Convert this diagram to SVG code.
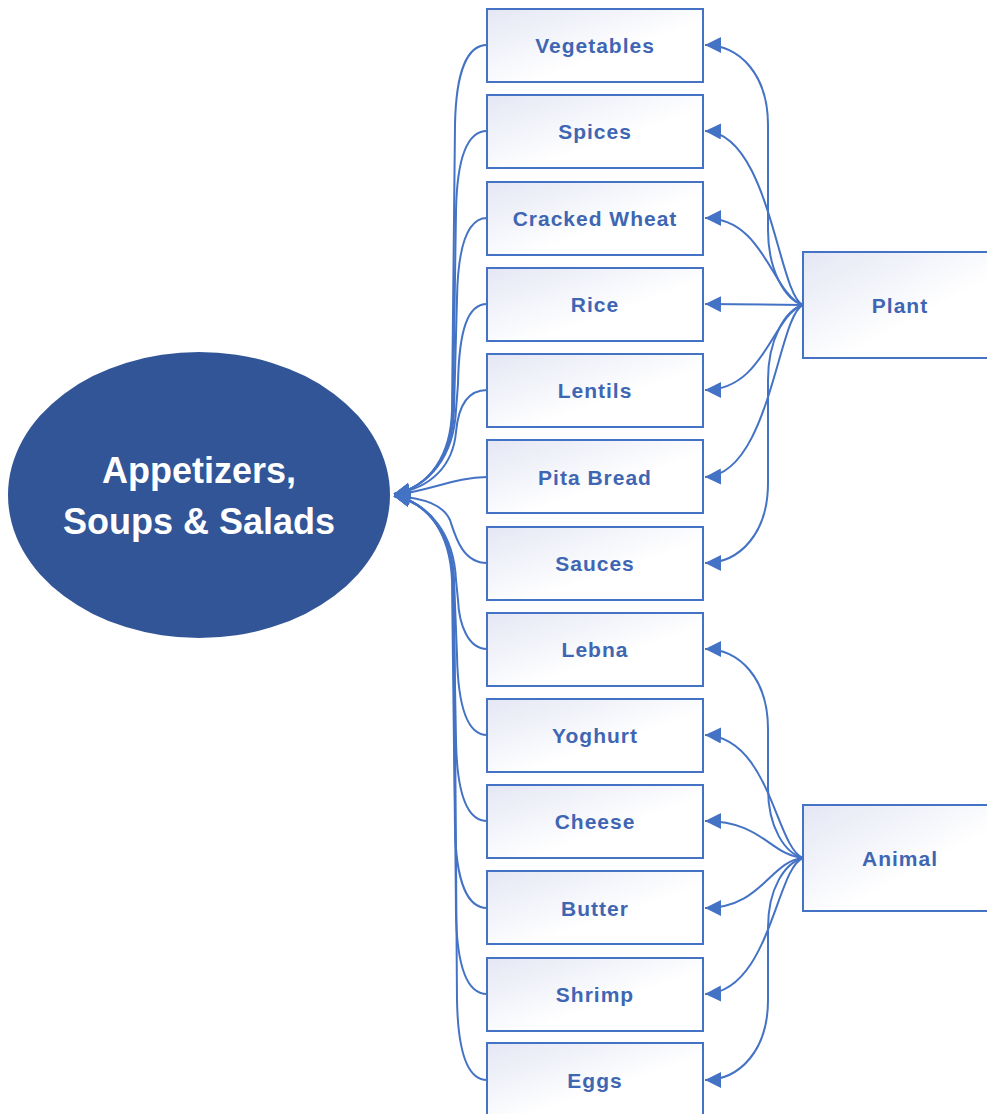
<svg xmlns="http://www.w3.org/2000/svg" width="987" height="1114" viewBox="0 0 987 1114">
<style>
.box{fill:url(#g);stroke:#4472C4;stroke-width:2}
.lbl{font-family:"Liberation Sans",Arial,sans-serif;font-weight:bold;font-size:21px;fill:#3F66B3;text-anchor:middle;letter-spacing:1px}
.big{font-family:"Liberation Sans",Arial,sans-serif;font-weight:bold;font-size:36px;fill:#fff;text-anchor:middle}
.c{fill:none;stroke:#4472C4;stroke-width:2;marker-end:url(#ah)}
</style>
<defs>
<linearGradient id="g" x1="0" y1="0" x2="1" y2="1">
<stop offset="0" stop-color="#E4E7F4"/>
<stop offset="0.6" stop-color="#FFFFFF"/>
<stop offset="1" stop-color="#FFFFFF"/>
</linearGradient>
<marker id="ah" markerUnits="userSpaceOnUse" markerWidth="18" markerHeight="18" refX="16" refY="8" orient="auto">
<path d="M0,0 L16,8 L0,16 Z" fill="#4472C4"/>
</marker>
</defs>
<g id="connectors">
<path class="c" d="M487,45 C468,45 456,70 455,125 L452,410 C451,455 430,487 394,494"/>
<path class="c" d="M487,131 C468,131 457,156 456,211 L453,410 C452,455 430,487 394,494"/>
<path class="c" d="M487,218 C468,218 458,243 457,298 L454,410 C453,455 430,487 394,494"/>
<path class="c" d="M487,304 C468,304 459,329 458,384 L456,410 C454,455 430,487 394,494"/>
<path class="c" d="M487,390 C466,390 458,410 456,432 C453,465 432,488 394,494"/>
<path class="c" d="M487,477 C455,477 430,491 394,495"/>
<path class="c" d="M487,563 C462,563 455,535 450,520 C443,505 425,498 394,496"/>
<path class="c" d="M487,649 C468,649 459,624 458,600 L456,580 C454,535 430,503 394,496"/>
<path class="c" d="M487,735 C468,735 458,710 457,655 L454,580 C452,535 430,503 394,496"/>
<path class="c" d="M487,821 C468,821 457,796 456,741 L453,580 C451,535 430,503 394,496"/>
<path class="c" d="M487,908 C468,908 456,883 455,828 L452,580 C450,535 430,503 394,496"/>
<path class="c" d="M487,994 C468,994 457,969 456,914 L453,580 C451,535 430,503 394,496"/>
<path class="c" d="M487,1080 C468,1080 458,1055 457,1000 L454,580 C452,535 430,503 394,496"/>
<path class="c" d="M803,305 C785,300 768,270 768,230 L768,125 C768,75 740,45 705,45"/>
<path class="c" d="M803,305 C778,295 770,133 705,131"/>
<path class="c" d="M803,305 C772,295 765,218 705,218"/>
<path class="c" d="M803,305 L705,304"/>
<path class="c" d="M803,305 C772,315 765,390 705,390"/>
<path class="c" d="M803,305 C778,315 770,475 705,477"/>
<path class="c" d="M803,305 C785,310 768,340 768,380 L768,483 C768,533 740,563 705,563"/>
<path class="c" d="M803,858 C785,853 768,828 768,788 L768,729 C768,679 740,649 705,649"/>
<path class="c" d="M803,858 C776,848 770,737 705,735"/>
<path class="c" d="M803,858 C770,855 762,821 705,821"/>
<path class="c" d="M803,858 C770,861 762,908 705,908"/>
<path class="c" d="M803,858 C776,868 770,992 705,994"/>
<path class="c" d="M803,858 C785,863 768,888 768,928 L768,1000 C768,1050 740,1080 705,1080"/>
</g>
<g id="main">
<ellipse cx="199" cy="495" rx="191" ry="143" fill="#325597"/>
<text class="big" x="199" y="483">Appetizers,</text>
<text class="big" x="199" y="534">Soups &amp; Salads</text>
</g>
<g id="vegetables"><rect class="box" x="487" y="9" width="216" height="73"/><text class="lbl" x="595" y="53">Vegetables</text></g>
<g id="spices"><rect class="box" x="487" y="95" width="216" height="73"/><text class="lbl" x="595" y="139">Spices</text></g>
<g id="cracked-wheat"><rect class="box" x="487" y="182" width="216" height="73"/><text class="lbl" x="595" y="226">Cracked Wheat</text></g>
<g id="rice"><rect class="box" x="487" y="268" width="216" height="73"/><text class="lbl" x="595" y="312">Rice</text></g>
<g id="lentils"><rect class="box" x="487" y="354" width="216" height="73"/><text class="lbl" x="595" y="398">Lentils</text></g>
<g id="pita-bread"><rect class="box" x="487" y="440" width="216" height="73"/><text class="lbl" x="595" y="485">Pita Bread</text></g>
<g id="sauces"><rect class="box" x="487" y="527" width="216" height="73"/><text class="lbl" x="595" y="571">Sauces</text></g>
<g id="lebna"><rect class="box" x="487" y="613" width="216" height="73"/><text class="lbl" x="595" y="657">Lebna</text></g>
<g id="yoghurt"><rect class="box" x="487" y="699" width="216" height="73"/><text class="lbl" x="595" y="743">Yoghurt</text></g>
<g id="cheese"><rect class="box" x="487" y="785" width="216" height="73"/><text class="lbl" x="595" y="829">Cheese</text></g>
<g id="butter"><rect class="box" x="487" y="871" width="216" height="73"/><text class="lbl" x="595" y="916">Butter</text></g>
<g id="shrimp"><rect class="box" x="487" y="958" width="216" height="73"/><text class="lbl" x="595" y="1002">Shrimp</text></g>
<g id="eggs"><rect class="box" x="487" y="1043" width="216" height="73"/><text class="lbl" x="595" y="1088">Eggs</text></g>
<g id="plant"><rect class="box" x="803" y="252" width="200" height="106"/><text class="lbl" x="900" y="313">Plant</text></g>
<g id="animal"><rect class="box" x="803" y="805" width="200" height="106"/><text class="lbl" x="900" y="866">Animal</text></g>
</svg>
